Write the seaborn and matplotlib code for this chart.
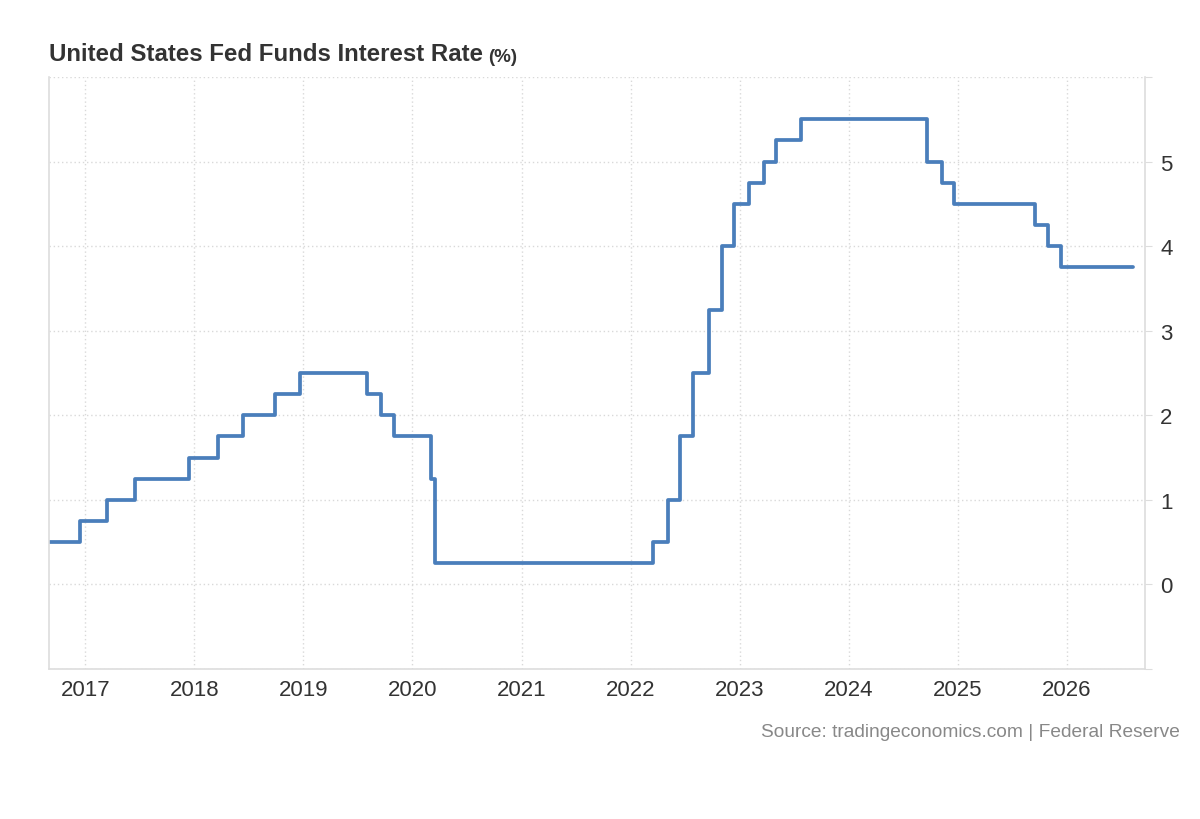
import pandas as pd
import seaborn as sns
import numpy as np
import matplotlib.pyplot as plt
import matplotlib.dates as mdates

# rate decisions (upper bound, %), step held until next date
dates = ['2016-09-01', '2016-12-15', '2017-03-16', '2017-06-15', '2017-12-14',
         '2018-03-22', '2018-06-14', '2018-09-27', '2018-12-20', '2019-08-01',
         '2019-09-19', '2019-10-31', '2020-03-04', '2020-03-16', '2022-03-17',
         '2022-05-05', '2022-06-16', '2022-07-28', '2022-09-22', '2022-11-03',
         '2022-12-15', '2023-02-02', '2023-03-23', '2023-05-04', '2023-07-27',
         '2024-09-19', '2024-11-08', '2024-12-19', '2025-09-18', '2025-10-30',
         '2025-12-11', '2026-08-10']
rates = [0.5, 0.75, 1.0, 1.25, 1.5,
         1.75, 2.0, 2.25, 2.5, 2.25,
         2.0, 1.75, 1.25, 0.25, 0.5,
         1.0, 1.75, 2.5, 3.25, 4.0,
         4.5, 4.75, 5.0, 5.25, 5.5,
         5.0, 4.75, 4.5, 4.25, 4.0,
         3.75, 3.75]
year_ticks = list(range(2017, 2027))
y_ticks = [0, 1, 2, 3, 4, 5]

df = pd.DataFrame({'date': pd.to_datetime(dates), 'rate': rates})

sns.set_style('white')
plt.rcParams['font.family'] = ['Liberation Sans', 'DejaVu Sans']

fig = plt.figure(figsize=(12, 8.2), dpi=100)
ax = fig.add_axes([0.0408, 0.1829, 0.9134, 0.7220])

sns.lineplot(data=df, x='date', y='rate', ax=ax, color='#4a7ebb',
             linewidth=2.7, drawstyle='steps-post')

ax.set_xlim(pd.Timestamp('2016-09-01'), pd.Timestamp('2026-09-20'))
ax.set_ylim(-1, 6)

ax.set_xticks([pd.Timestamp(f'{y}-01-01') for y in year_ticks])
ax.xaxis.set_major_formatter(mdates.DateFormatter('%Y'))
ax.yaxis.tick_right()
ax.set_yticks(range(-1, 7))
ax.set_yticklabels(['' if v not in y_ticks else str(v) for v in range(-1, 7)])

ax.grid(True, color='#d9d9d9', linestyle=(0, (1, 2)), linewidth=1)
ax.tick_params(axis='x', length=0, labelsize=16, labelcolor='#333333', pad=7)
ax.tick_params(axis='y', length=5, color='#dddddd', labelsize=16,
               labelcolor='#333333', pad=6)
ax.set_xlabel('')
ax.set_ylabel('')

for side in ['left', 'right', 'bottom']:
    ax.spines[side].set_color('#dddddd')
    ax.spines[side].set_linewidth(1.2)
ax.spines['top'].set_visible(False)

title = fig.text(0.0408, 0.92, 'United States Fed Funds Interest Rate',
                 fontsize=17.3, fontweight='bold', color='#333333', va='bottom')
fig.canvas.draw()
ax.annotate('(%)', xy=(1, 0), xycoords=title, xytext=(4, 0),
            textcoords='offset points', fontsize=13.5, fontweight='bold',
            color='#333333', va='bottom')
fig.text(0.983, 0.107, 'Source: tradingeconomics.com | Federal Reserve',
         fontsize=13.8, color='#888888', ha='right', va='center')

fig.savefig('out.png', dpi=100)
